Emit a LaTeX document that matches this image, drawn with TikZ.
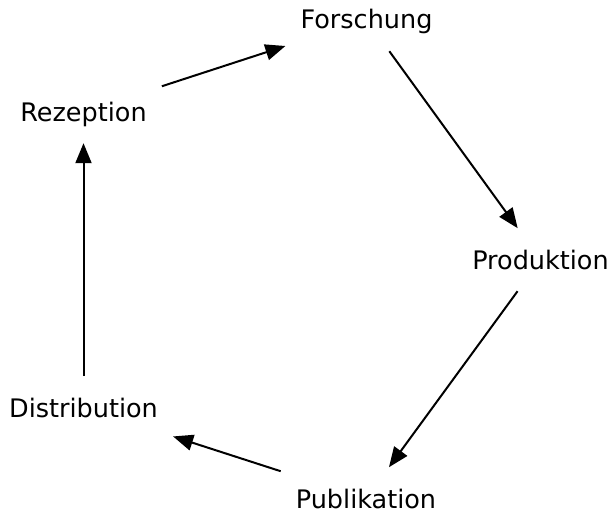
\documentclass[tikz,border=0pt]{standalone}
\usepackage{fontspec}
\setmainfont{DejaVu Sans}
\usetikzlibrary{arrows.meta}

\begin{document}
\begin{tikzpicture}[x=1pt,y=-1pt,
    stage/.style={inner xsep=15pt, inner ysep=22pt, text height=18.6pt, text depth=0pt,
        font=\fontsize{25.5}{30}\selectfont},
    flow/.style={-{Triangle[length=20pt,width=16pt]}, line width=2pt}]
    \useasboundingbox (0,0) rectangle (612,511);
    \node[stage] (for) at (366.5,19.7)  {Forschung};
    \node[stage] (pro) at (540.5,259.7) {Produktion};
    \node[stage] (pub) at (366,498.7)   {Publikation};
    \node[stage] (dis) at (83.5,407.7)  {Distribution};
    \node[stage] (rez) at (83.5,111.7)  {Rezeption};
    \draw[flow] (for) -- (pro);
    \draw[flow] (pro) -- (pub);
    \draw[flow] (pub) -- (dis);
    \draw[flow] (dis) -- (rez);
    \draw[flow] (rez) -- (for);
\end{tikzpicture}
\end{document}
